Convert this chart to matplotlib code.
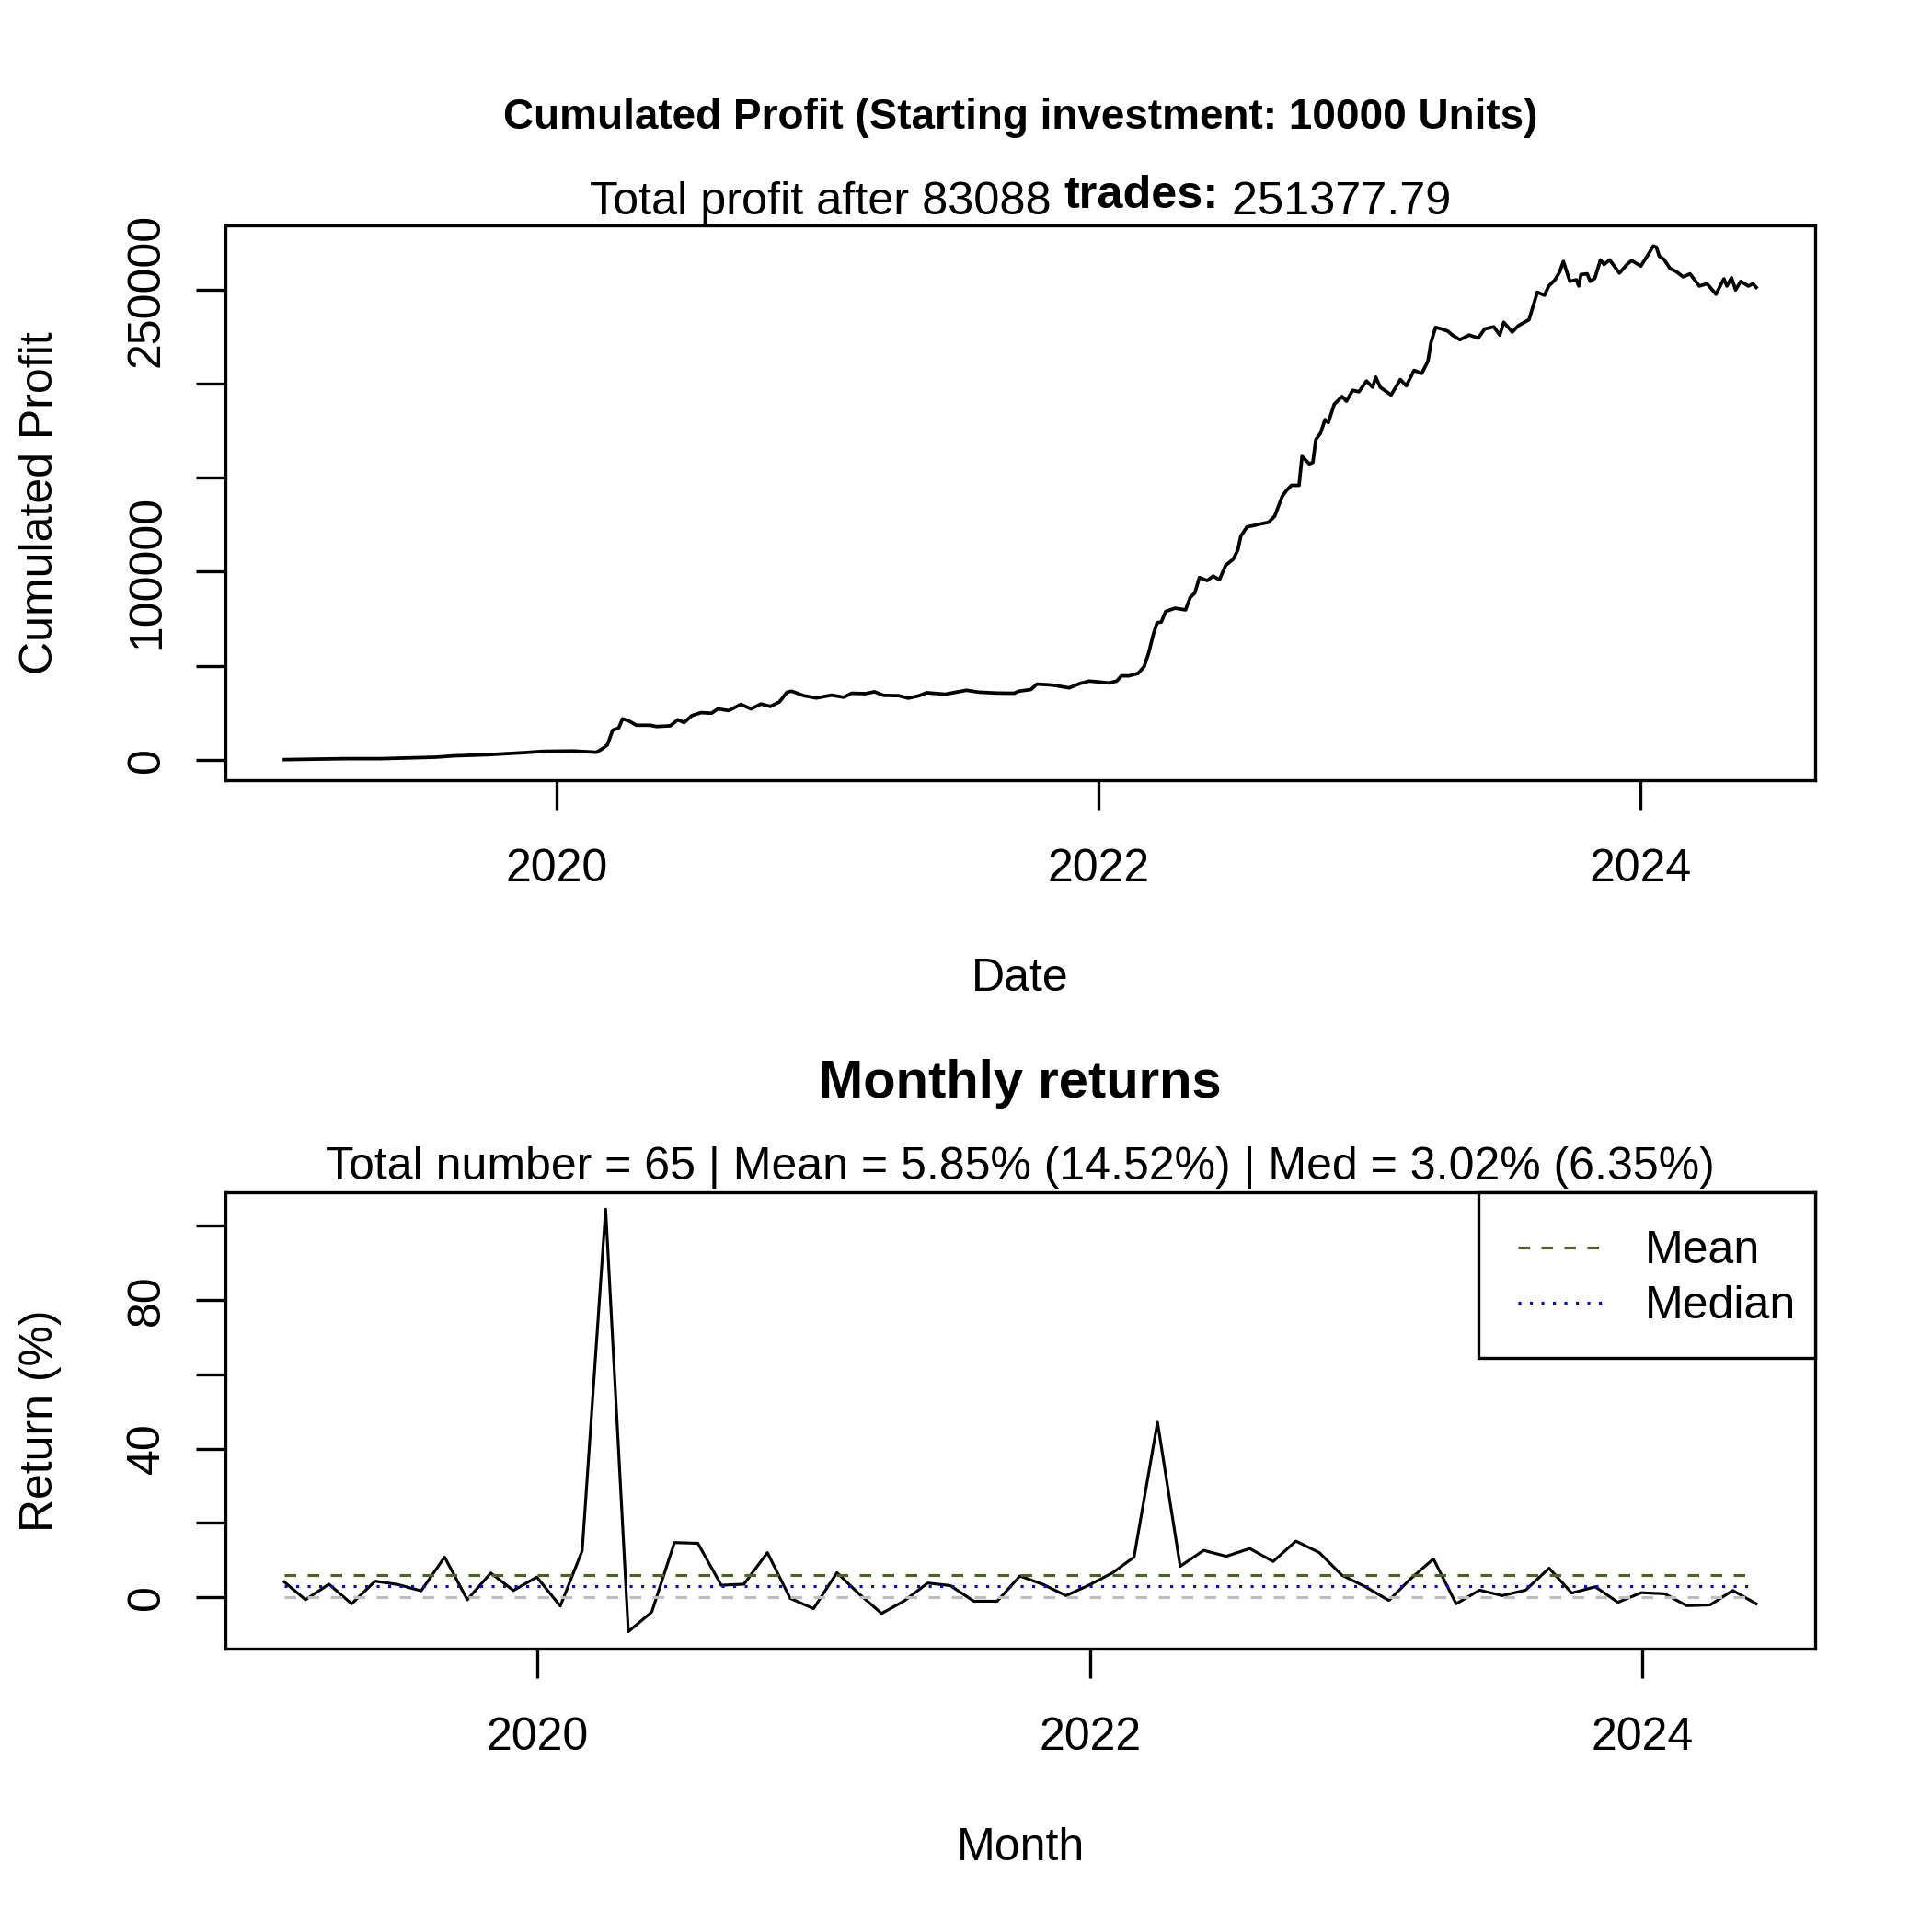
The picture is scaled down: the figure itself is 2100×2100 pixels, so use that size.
import numpy as np
import pandas as pd
import matplotlib
matplotlib.use("Agg")
import matplotlib.pyplot as plt
from matplotlib.patches import Rectangle

plt.rcParams['font.family'] = ['Liberation Sans', 'DejaVu Sans']

# cumulated profit (decimal year -> profit)
cum_year = [2018.995, 2019.213, 2019.349, 2019.553, 2019.621, 2019.745, 2019.892, 2019.949,
            2020.062, 2020.147, 2020.170, 2020.187, 2020.207, 2020.229, 2020.243, 2020.266,
            2020.294, 2020.345, 2020.368, 2020.419, 2020.447, 2020.470, 2020.498, 2020.532,
            2020.571, 2020.594, 2020.634, 2020.679, 2020.716, 2020.753, 2020.787, 2020.821,
            2020.849, 2020.866, 2020.911, 2020.957, 2021.013, 2021.058, 2021.087, 2021.138,
            2021.171, 2021.205, 2021.262, 2021.296, 2021.336, 2021.364, 2021.432, 2021.511,
            2021.556, 2021.624, 2021.687, 2021.704, 2021.749, 2021.771, 2021.828, 2021.890,
            2021.930, 2021.964, 2022.003, 2022.037, 2022.066, 2022.083, 2022.111, 2022.145,
            2022.167, 2022.184, 2022.201, 2022.215, 2022.230, 2022.247, 2022.281, 2022.320,
            2022.337, 2022.354, 2022.371, 2022.400, 2022.422, 2022.445, 2022.468, 2022.496,
            2022.513, 2022.524, 2022.547, 2022.575, 2022.598, 2022.626, 2022.649, 2022.677,
            2022.694, 2022.711, 2022.739, 2022.750, 2022.777, 2022.790, 2022.801, 2022.818,
            2022.835, 2022.847, 2022.869, 2022.898, 2022.914, 2022.937, 2022.960, 2022.988,
            2023.011, 2023.022, 2023.039, 2023.079, 2023.113, 2023.135, 2023.164, 2023.192,
            2023.215, 2023.226, 2023.243, 2023.266, 2023.288, 2023.305, 2023.333, 2023.367,
            2023.401, 2023.424, 2023.458, 2023.480, 2023.495, 2023.526, 2023.548, 2023.588,
            2023.605, 2023.619, 2023.645, 2023.661, 2023.684, 2023.701, 2023.715, 2023.739,
            2023.763, 2023.772, 2023.780, 2023.803, 2023.814, 2023.831, 2023.852, 2023.865,
            2023.886, 2023.922, 2023.950, 2023.967, 2024.001, 2024.030, 2024.047, 2024.058,
            2024.069, 2024.086, 2024.109, 2024.131, 2024.157, 2024.182, 2024.199, 2024.216,
            2024.245, 2024.278, 2024.293, 2024.307, 2024.318, 2024.335, 2024.350, 2024.369,
            2024.397, 2024.414, 2024.426]
cum_profit = [0, 500, 500, 1300, 2000, 2600, 3800, 4400,
              4600, 3900, 5900, 7800, 15700, 16800, 21700, 20600,
              18300, 18300, 17600, 18000, 21200, 19700, 23400, 25000,
              24700, 27000, 26100, 29400, 27000, 29600, 28300, 30700,
              35900, 36400, 34000, 32800, 34300, 33200, 35300, 35100,
              36100, 34200, 34000, 32700, 34000, 35600, 34800, 36900,
              35900, 35400, 35300, 36400, 37300, 40200, 39700, 38200,
              40500, 41800, 41300, 40800, 41800, 44600, 44600, 45900,
              49500, 56900, 66700, 72900, 73200, 78900, 80600, 79700,
              86300, 88700, 96900, 95300, 97700, 95700, 103400, 106700,
              111600, 119000, 123900, 124700, 125500, 126300, 129600, 140200,
              143500, 146000, 146000, 161400, 157400, 158200, 170400, 173700,
              181000, 179400, 189200, 193300, 190800, 196600, 195800, 201500,
              198200, 203600, 198200, 194100, 202300, 199000, 207200, 205600,
              212100, 221900, 230100, 229200, 228100, 226000, 223500, 226000,
              224400, 229200, 230400, 226000, 232800, 227600, 230900, 234200,
              242300, 248800, 247200, 252100, 255400, 259500, 265200, 254600,
              255400, 252100, 258200, 258600, 254600, 256200, 266000, 263600,
              266000, 259000, 263600, 265700, 262700, 269300, 273400, 272800,
              268000, 266300, 261400, 259800, 257000, 258600, 255400, 252100,
              253300, 247700, 252100, 255900, 252100, 256500, 250000, 254600,
              252100, 253300, 251377.79]

# monthly returns in %, Jan 2019 .. May 2024
month_returns = [4.1, -0.7, 3.5, -1.8, 4.3, 3.4, 1.7, 10.8, -0.7, 6.5,
                 1.8, 5.4, -2.4, 12.5, 104.5, -9.3, -4.0, 14.7, 14.5, 3.2,
                 3.5, 12.0, -0.3, -3.1, 6.6, 1.1, -4.4, -1.0, 3.8, 3.1,
                 -1.1, -1.1, 5.7, 3.4, 0.4, 3.3, 6.6, 10.8, 47.1, 8.3,
                 12.6, 11.0, 13.1, 9.6, 15.1, 12.0, 5.9, 2.8, -0.9, 4.8,
                 10.3, -1.8, 1.9, 0.4, 1.9, 7.8, 1.1, 2.8, -1.4, 1.2,
                 0.9, -2.3, -2.1, 1.8, -1.8]
mean_ret = 5.85
med_ret = 3.02

year_ticks = ["2020", "2022", "2024"]
profit_ticks = [0, 50000, 100000, 150000, 200000, 250000]
profit_labels = ["0", "", "100000", "", "", "250000"]
ret_ticks = [0, 20, 40, 60, 80, 100]
ret_labels = ["0", "", "40", "", "80", ""]


def to_date(y):
    yi = int(np.floor(y))
    start = pd.Timestamp(yi, 1, 1)
    end = pd.Timestamp(yi + 1, 1, 1)
    return start + (end - start) * (y - yi)


cum_dates = [to_date(y) for y in cum_year]
months = pd.date_range("2019-01-31", periods=len(month_returns), freq="ME")
tick_dates = [pd.Timestamp(int(t), 1, 1) for t in year_ticks]

fig = plt.figure(figsize=(7, 7), dpi=300)
ax1 = fig.add_axes([0.1167, 0.5962, 0.8228, 0.2871])
ax2 = fig.add_axes([0.1167, 0.1467, 0.8228, 0.2362])

for ax in (ax1, ax2):
    for s in ax.spines.values():
        s.set_linewidth(0.8)
    ax.margins(x=0.04, y=0.04)
    ax.tick_params(axis="both", direction="out", length=7.7, width=0.8, labelsize=12)
    ax.tick_params(axis="x", pad=10)
    ax.tick_params(axis="y", pad=7.2)

# top: cumulated profit
ax1.plot(cum_dates, cum_profit, color="black", lw=0.9)
ax1.set_xticks(tick_dates, year_ticks)
ax1.set_yticks(profit_ticks, profit_labels, rotation=90, va="center", ha="right")
ax1.set_xlabel("Date", fontsize=12, va="center")
ax1.xaxis.set_label_coords(0.5, -0.3582)
ax1.set_ylabel("Cumulated Profit", fontsize=12, va="center")
ax1.yaxis.set_label_coords(-0.1165, 0.5)

# bottom: monthly returns
ax2.plot(months, month_returns, color="black", lw=0.75)
ax2.plot(months, [0] * len(months), color="#BEBEBE", lw=0.75, dashes=(4, 4))
l_mean, = ax2.plot(months, [mean_ret] * len(months), color="#4B6423", lw=0.75,
                   dashes=(4, 4), label="Mean")
l_med, = ax2.plot(months, [med_ret] * len(months), color="#0000FF", lw=0.75,
                  dashes=(1, 3), label="Median")
ax2.set_xticks(tick_dates, year_ticks)
ax2.set_yticks(ret_ticks, ret_labels, rotation=90, va="center", ha="right")
ax2.set_xlabel("Month", fontsize=12, va="center")
ax2.xaxis.set_label_coords(0.5, -0.4383)
ax2.set_ylabel("Return (%)", fontsize=12, va="center")
ax2.yaxis.set_label_coords(-0.1165, 0.5)

# legend box in the top right corner, R style (wider left padding)
box = Rectangle((0.788, 0.637), 1 - 0.788, 1 - 0.637, transform=ax2.transAxes,
                facecolor="white", edgecolor="black", lw=0.8, zorder=4, clip_on=False)
ax2.add_patch(box)
leg = ax2.legend(handles=[l_mean, l_med], loc="upper left", bbox_to_anchor=(0.813, 0.917),
                 borderaxespad=0, borderpad=0, frameon=False, fontsize=12,
                 labelspacing=0.28, handlelength=1.82, handletextpad=0.94)
leg.set_zorder(5)

# titles
xc = 0.1167 + 0.8228 / 2
fig.text(xc, 1 - 128 / 2100, "Cumulated Profit (Starting investment: 10000 Units)",
         ha="center", va="center", fontsize=11.0, fontweight="bold")
fig.text(xc, 1 - 1178 / 2100, "Monthly returns", ha="center", va="center",
         fontsize=13.9, fontweight="bold")
fig.text(xc, 1 - 1269 / 2100,
         "Total number = 65 | Mean = 5.85% (14.52%) | Med = 3.02% (6.35%)",
         ha="center", va="center", fontsize=12)

# subtitle of the top panel, with a bold word in the middle
parts = [("Total profit after 83088 ", "normal", 0),
         ("trades:", "bold", 7),
         (" 251377.79", "normal", 0)]
renderer = fig.canvas.get_renderer()
texts = []
for s, w, dy in parts:
    t = fig.text(0, 0, s, fontsize=12.1, fontweight=w, ha="left", va="baseline")
    texts.append(t)
widths = [t.get_window_extent(renderer).width for t in texts]
x = xc * 2100 - sum(widths) / 2
base = 1 - 233 / 2100
for t, wpx, (s, w, dy) in zip(texts, widths, parts):
    t.set_position((x / 2100, base + dy / 2100))
    x += wpx

fig.savefig("out.png", dpi=300)
